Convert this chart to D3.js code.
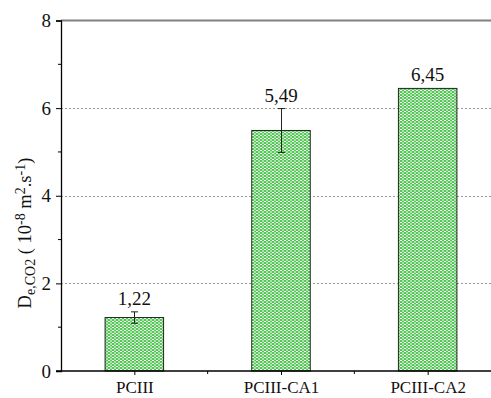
<!DOCTYPE html>
<html><head><meta charset="utf-8">
<script src="https://cdn.jsdelivr.net/npm/d3@7"></script>
<style>body{margin:0;background:#fff}svg{display:block}</style>
</head><body>
<svg id="c" width="491" height="398"></svg>
<script>
const categories = ["PCIII", "PCIII-CA1", "PCIII-CA2"];
const values = [1.22, 5.49, 6.45];
const errors = [0.13, 0.5, 0];
const valueLabels = ["1,22", "5,49", "6,45"];
const yTicks = [0, 2, 4, 6, 8];
const yMinorTicks = [1, 3, 5, 7];

(function () {
const svg = d3.select("#c");
const font = "'Liberation Serif', 'DejaVu Serif', serif";
const mLeft = 61, mRight = 501, mTop = 20.5, mBottom = 371;

const x = d3.scalePoint().domain(categories).range([mLeft, mRight]).padding(0.5);
const y = d3.scaleLinear().domain([0, 8]).range([mBottom, mTop]);

// pattern
const defs = svg.append("defs");
const pat = defs.append("pattern").attr("id", "chk").attr("patternUnits", "userSpaceOnUse")
  .attr("width", 4).attr("height", 3);
pat.append("rect").attr("width", 4).attr("height", 3).attr("fill", "#55c955");
pat.append("rect").attr("x", 0).attr("y", 0).attr("width", 2).attr("height", 1).attr("fill", "#ffffff");
pat.append("rect").attr("x", 2).attr("y", 1.5).attr("width", 2).attr("height", 1).attr("fill", "#ffffff");

// gridlines
svg.append("g").selectAll("line").data([2, 4, 6]).join("line")
  .attr("x1", mLeft).attr("x2", 491).attr("y1", d => Math.round(y(d)) + 0.5).attr("y2", d => Math.round(y(d)) + 0.5)
  .attr("stroke", "#999").attr("stroke-width", 1).attr("stroke-dasharray", "2,2");
// top line
svg.append("line").attr("x1", mLeft).attr("x2", 491).attr("y1", y(8)).attr("y2", y(8))
  .attr("stroke", "#808080").attr("stroke-width", 2);

// bars
const bw = 58.5;
svg.append("g").selectAll("rect").data(values).join("rect")
  .attr("x", (d, i) => x(categories[i]) - bw / 2)
  .attr("width", bw)
  .attr("y", d => y(d))
  .attr("height", d => y(0) - y(d))
  .attr("fill", "url(#chk)")
  .attr("stroke", "#222").attr("stroke-width", 1);

// error bars
const eg = svg.append("g");
values.forEach((v, i) => {
  if (!errors[i]) return;
  const cx = Math.round(x(categories[i])) + 0.5;
  eg.append("line").attr("x1", cx).attr("x2", cx).attr("y1", y(v + errors[i])).attr("y2", y(v - errors[i]))
    .attr("stroke", "#222").attr("stroke-width", 1);
  [v + errors[i], v - errors[i]].forEach(e => {
    eg.append("line").attr("x1", cx - 3.5).attr("x2", cx + 3.5).attr("y1", y(e)).attr("y2", y(e))
      .attr("stroke", "#222").attr("stroke-width", 1);
  });
});

// value labels
svg.append("g").selectAll("text").data(values).join("text")
  .attr("x", (d, i) => x(categories[i]))
  .attr("y", (d, i) => y(d + errors[i]) - 7)
  .attr("text-anchor", "middle")
  .attr("font-family", font).attr("font-size", 19).attr("fill", "#111")
  .text((d, i) => valueLabels[i]);

// y axis
const yAxis = svg.append("g").attr("transform", `translate(${mLeft},0)`)
  .call(d3.axisLeft(y).tickValues(yTicks).tickSize(5).tickPadding(5).tickFormat(d3.format("d")));
yAxis.select(".domain").attr("stroke", "#000").attr("stroke-width", 1.3);
yAxis.selectAll(".tick line").attr("stroke", "#000");
yAxis.selectAll(".tick text").attr("font-family", font).attr("font-size", 19).attr("fill", "#111");
svg.append("g").selectAll("line").data(yMinorTicks).join("line")
  .attr("x1", mLeft - 3).attr("x2", mLeft).attr("y1", d => y(d)).attr("y2", d => y(d))
  .attr("stroke", "#000");

// x axis
const xAxis = svg.append("g").attr("transform", `translate(0,${mBottom})`)
  .call(d3.axisBottom(x).tickSize(4).tickPadding(6).tickSizeOuter(0));
xAxis.select(".domain").attr("stroke", "#000").attr("stroke-width", 1.3).attr("d", `M${mLeft - 5},0H491`);
xAxis.selectAll(".tick line").attr("stroke", "#000");
xAxis.selectAll(".tick text").attr("font-family", font).attr("font-size", 17).attr("fill", "#111");
const mids = categories.slice(1).map((c, i) => (x(categories[i]) + x(c)) / 2);
svg.append("g").selectAll("line").data(mids).join("line")
  .attr("x1", d => d).attr("x2", d => d).attr("y1", mBottom).attr("y2", mBottom + 3)
  .attr("stroke", "#000");

// y label
const yl = svg.append("text").attr("transform", "translate(31,233) rotate(-90)")
  .attr("text-anchor", "middle").attr("font-family", font).attr("font-size", 18.5).attr("fill", "#111");
yl.append("tspan").text("D");
yl.append("tspan").attr("baseline-shift", "-25%").attr("font-size", 14).text("e,CO2");
yl.append("tspan").text(" ( 10");
yl.append("tspan").attr("baseline-shift", "40%").attr("font-size", 14).text("-8");
yl.append("tspan").text(" m");
yl.append("tspan").attr("baseline-shift", "40%").attr("font-size", 14).text("2");
yl.append("tspan").text(".s");
yl.append("tspan").attr("baseline-shift", "40%").attr("font-size", 14).text("-1");
yl.append("tspan").text(")");
})();
</script>
</body></html>
